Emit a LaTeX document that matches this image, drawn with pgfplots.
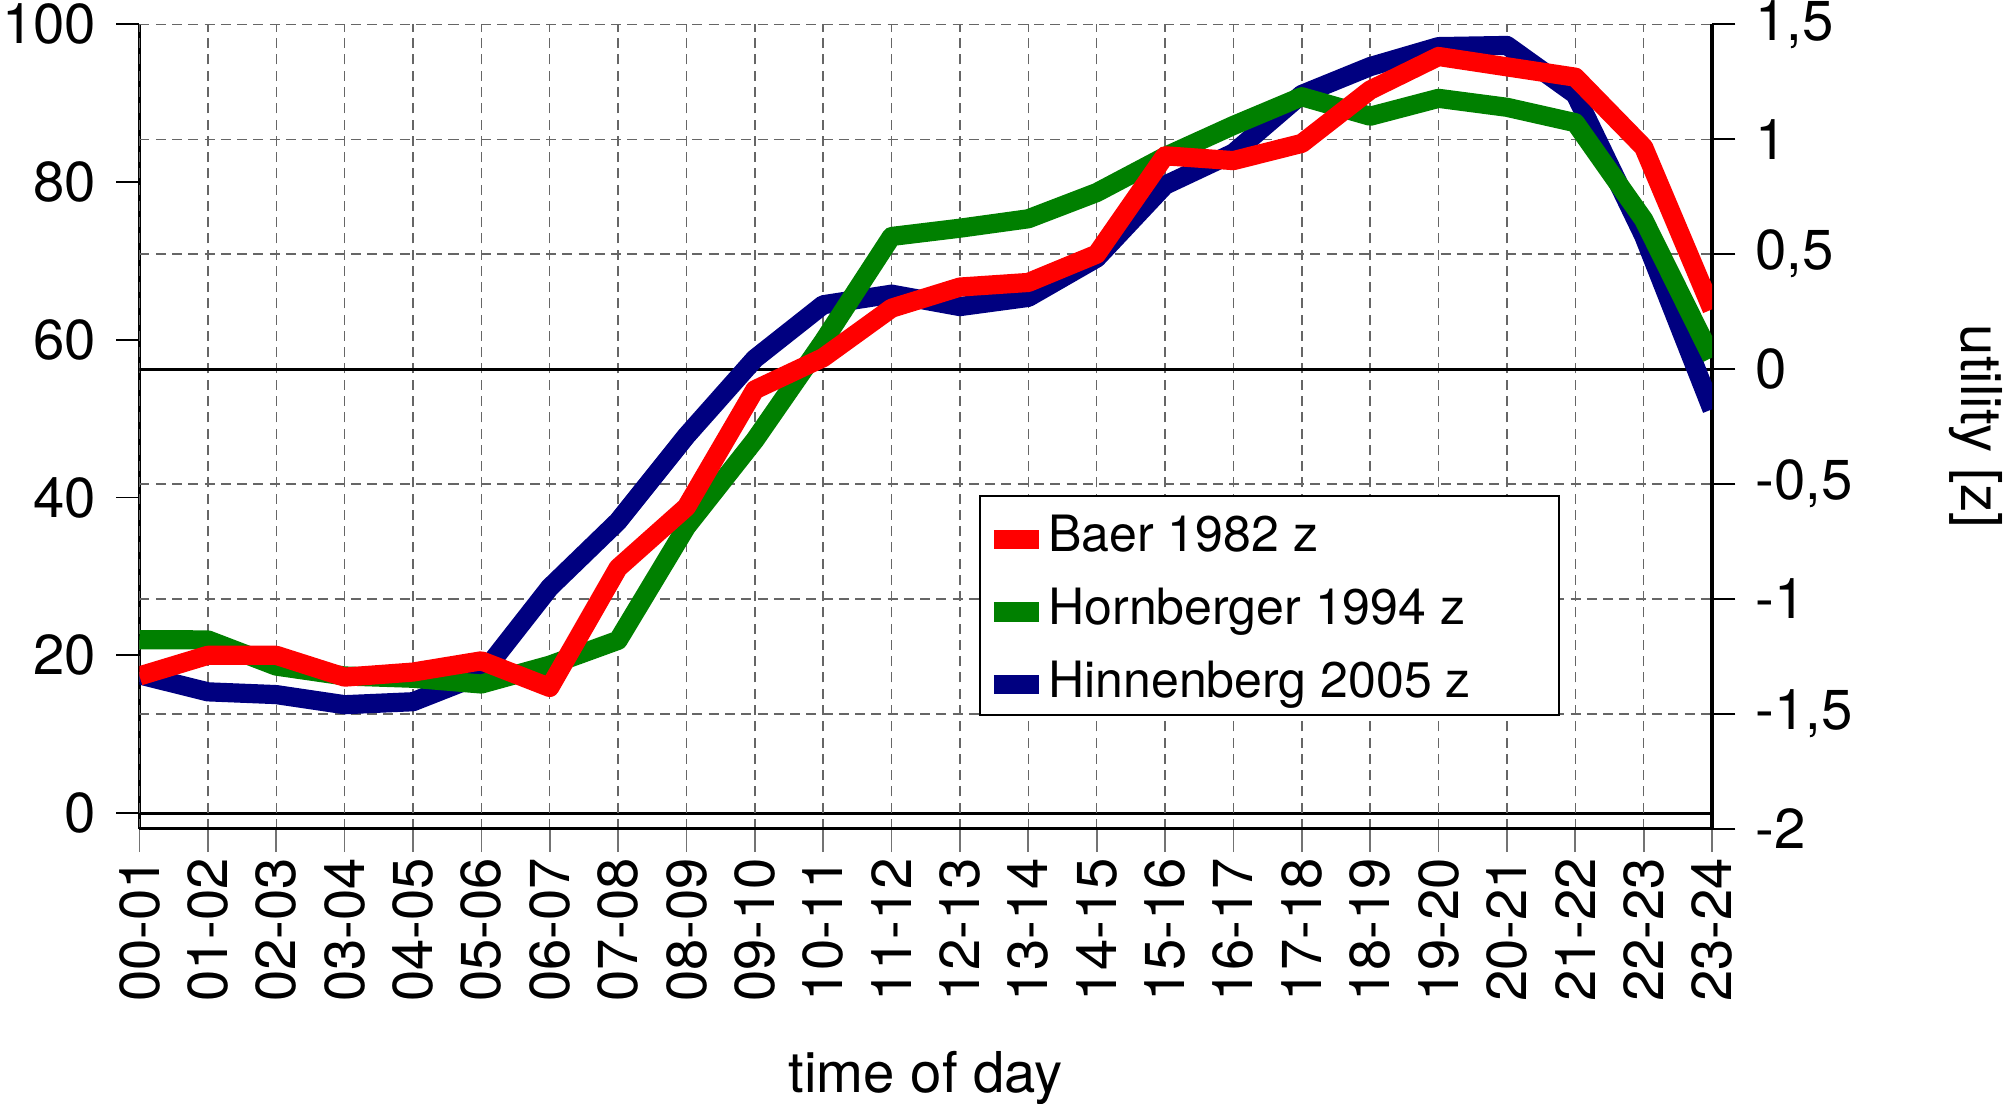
\documentclass[border=0pt]{standalone}
\usepackage{fontspec}
\setmainfont{TeX Gyre Heros}
\usepackage{pgfplots}
\usepackage{pgfplotstable}
\pgfplotsset{compat=1.18}

\pgfplotstableread{
x baer horn hinn
0 -1.335 -1.177 -1.330
1 -1.245 -1.178 -1.404
2 -1.245 -1.292 -1.416
3 -1.340 -1.335 -1.460
4 -1.318 -1.345 -1.447
5 -1.269 -1.370 -1.330
6 -1.385 -1.288 -0.950
7 -0.865 -1.180 -0.662
8 -0.600 -0.686 -0.290
9 -0.090 -0.309 0.045
10 0.050 0.120 0.280
11 0.265 0.577 0.326
12 0.357 0.613 0.272
13 0.377 0.654 0.312
14 0.500 0.768 0.483
15 0.928 0.925 0.800
16 0.907 1.060 0.940
17 0.982 1.185 1.195
18 1.214 1.100 1.316
19 1.360 1.178 1.403
20 1.315 1.139 1.408
21 1.270 1.072 1.195
22 0.965 0.650 0.580
23 0.260 0.050 -0.175
}\zdata

\definecolor{cRed}{RGB}{255,0,0}
\definecolor{cGreen}{RGB}{0,128,0}
\definecolor{cBlue}{RGB}{0,0,128}

\begin{document}
\begin{tikzpicture}
\useasboundingbox (-33.45pt,-65.76pt) rectangle (447.36pt,198.76pt);
\begin{axis}[
  at={(0pt,0pt)}, anchor=south west, scale only axis,
  width=377.1pt, height=192.93pt,
  xmin=0, xmax=23, ymin=-2, ymax=100,
  axis x line=none, axis y line*=left,
  axis line style={line width=0.75pt},
  ytick={0,20,40,60,80,100},
  yticklabels={0,20,40,60,80,100},
  tick align=outside, major tick length=5.6pt,
  ytick style={black, line width=0.4pt},
  yticklabel style={font=\fontsize{13.5}{16}\selectfont, inner xsep=4.6pt},
]
\draw[black, line width=0.7pt] (axis cs:0,0) -- (axis cs:23,0);
\end{axis}
\begin{axis}[
  at={(0pt,0pt)}, anchor=south west, scale only axis,
  width=377.1pt, height=192.93pt,
  xmin=0, xmax=23, ymin=-2, ymax=1.5,
  axis x line*=bottom, axis y line*=right,
  axis line style={line width=0.75pt},
  xtick={0,1,...,23},
  xticklabels={00-01,01-02,02-03,03-04,04-05,05-06,06-07,07-08,08-09,09-10,10-11,11-12,12-13,13-14,14-15,15-16,16-17,17-18,18-19,19-20,20-21,21-22,22-23,23-24},
  ytick={-2,-1.5,-1,-0.5,0,0.5,1,1.5},
  yticklabels={-2,{-1,5},-1,{-0,5},0,{0,5},1,{1,5}},
  tick align=outside, major tick length=5.6pt,
  xtick style={black!55, line width=0.4pt},
  ytick style={black, line width=0.4pt},
  xticklabel style={rotate=90, anchor=east, font=\fontsize{13.5}{16}\selectfont, inner xsep=1.2pt},
  yticklabel style={font=\fontsize{13.5}{16}\selectfont, inner xsep=4.6pt},
  xmajorgrids, ymajorgrids,
  major grid style={black!60, line width=0.35pt, dash pattern=on 2.4pt off 1.5pt},
  xlabel={time of day}, ylabel={utility [z]},
  xlabel style={at={(axis description cs:0.5,-0.31)}, anchor=center, font=\fontsize{13.5}{16}\selectfont},
  ylabel style={rotate=180, at={(axis description cs:1.168,0.5)}, anchor=center, font=\fontsize{13.5}{16}\selectfont},
  every axis plot/.append style={line width=4.6pt, line join=round},
  legend image code/.code={\draw[#1, line cap=butt] (0pt,0pt) -- (10.8pt,0pt);},
  legend cell align=left,
  legend style={at={(axis description cs:0.5345,0.4137)}, anchor=north west,
    yshift=-1.5pt, draw=none, fill=none, inner xsep=0.8pt, inner ysep=0pt,
    row sep=0pt, column sep=0pt, font=\fontsize{12}{14}\selectfont,
    nodes={inner xsep=0pt, inner ysep=2.7pt, text height=9pt, text depth=3pt}},
]
\draw[black, line width=0.6pt, fill=white] (axis description cs:0.5345,0.1415) rectangle (axis description cs:0.9027,0.4137);
\addlegendimage{cRed, line width=4.6pt}
\addlegendentry{Baer 1982 z}
\addlegendimage{cGreen, line width=4.6pt}
\addlegendentry{Hornberger 1994 z}
\addlegendimage{cBlue, line width=4.6pt}
\addlegendentry{Hinnenberg 2005 z}
\draw[black, line width=0.7pt] (axis cs:0,0) -- (axis cs:23,0);
\addplot[cBlue, forget plot] table[x=x,y=hinn]{\zdata};
\addplot[cGreen, forget plot] table[x=x,y=horn]{\zdata};
\addplot[cRed, forget plot] table[x=x,y=baer]{\zdata};
\end{axis}
\end{tikzpicture}
\end{document}
